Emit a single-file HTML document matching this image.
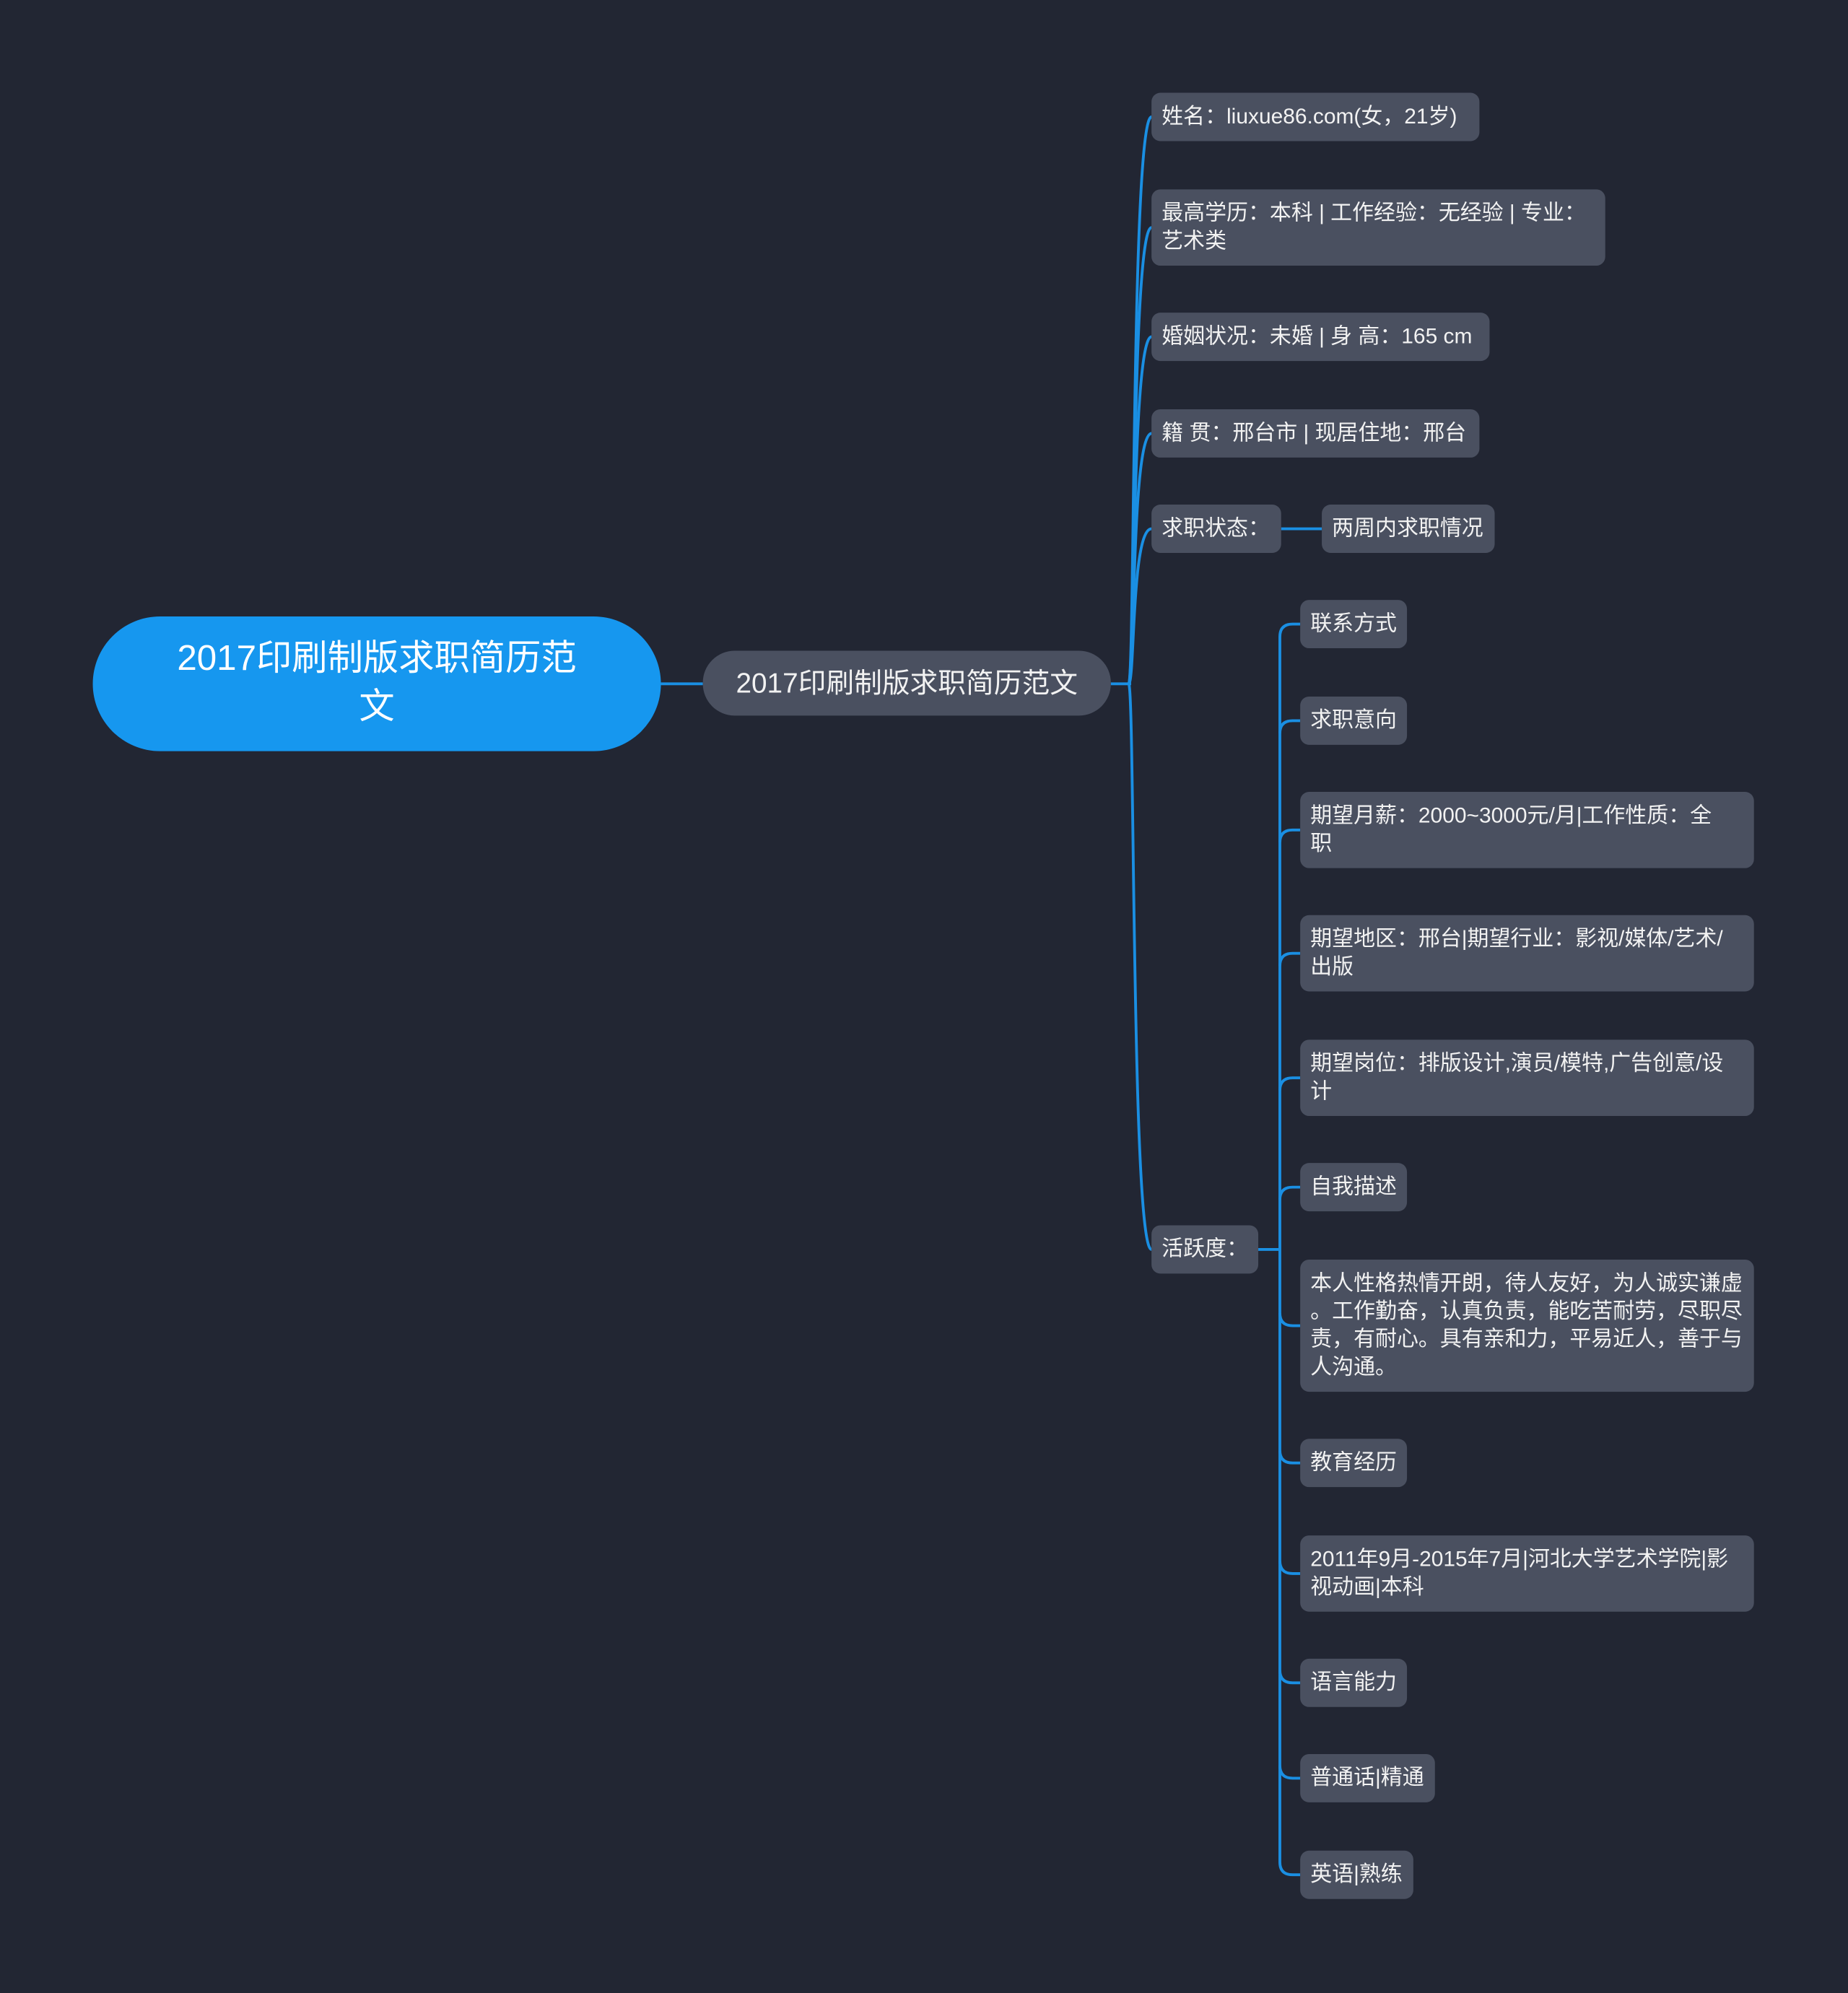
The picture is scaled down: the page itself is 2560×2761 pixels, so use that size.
<!DOCTYPE html>
<html><head><meta charset="utf-8"><style>
html,body{margin:0;padding:0;background:#222633;}
#w{position:relative;width:1454px;height:1568px;transform:scale(1.76066,1.76084);transform-origin:0 0;overflow:hidden;font-family:"Liberation Sans","Noto Sans CJK SC",sans-serif;}
.n{position:absolute;background:#4a5060;color:#f2f2f2;border-radius:7px;font-size:17px;line-height:22px;padding:8px 8px;box-sizing:border-box;white-space:nowrap;overflow:hidden;}
svg{position:absolute;left:0;top:0;}
</style></head><body><div id="w">
<svg width="1454" height="1568" fill="none" stroke="#1a8fe3" stroke-width="2.2">
<path d="M520 538 L553 538"/>
<path d="M874 538 L890 538"/>
<g id="l2">
<path d="M888 538 C 893 538, 890 92, 906 92"/>
<path d="M888 538 C 893 538, 890 179, 906 179"/>
<path d="M888 538 C 893 538, 890 265, 906 265"/>
<path d="M888 538 C 893 538, 890 341, 906 341"/>
<path d="M888 538 C 893 538, 890 416, 906 416"/>
<path d="M888 538 C 893 538, 890 983, 906 983"/>
</g>
<path d="M1008 416 L1040 416"/>
<path d="M990 983 L1007 983"/>
<path d="M1007 501 Q1007 491 1017 491 L1023 491 M1007 501 L1007 1465 Q1007 1475 1017 1475 L1023 1475"/>
<path d="M1007 577 Q1007 567 1017 567 L1023 567"/>
<path d="M1007 663 Q1007 653 1017 653 L1023 653"/>
<path d="M1007 760 Q1007 750 1017 750 L1023 750"/>
<path d="M1007 858 Q1007 848 1017 848 L1023 848"/>
<path d="M1007 944 Q1007 934 1017 934 L1023 934"/>
<path d="M1007 1033 Q1007 1043 1017 1043 L1023 1043"/>
<path d="M1007 1141 Q1007 1151 1017 1151 L1023 1151"/>
<path d="M1007 1228 Q1007 1238 1017 1238 L1023 1238"/>
<path d="M1007 1314 Q1007 1324 1017 1324 L1023 1324"/>
<path d="M1007 1389 Q1007 1399 1017 1399 L1023 1399"/>
</svg>
<div style="position:absolute;left:73px;top:485px;width:447px;height:106px;border-radius:53px;background:#1697ef;color:#fff;font-size:28px;line-height:38px;text-align:center;box-sizing:border-box;padding:14px 0 0;white-space:nowrap;">2017印刷制版求职简历范<br>文</div>
<div class="n" style="left:553px;top:512px;width:321px;height:51px;border-radius:25px;font-size:22px;line-height:51px;padding:0;text-align:center;">2017印刷制版求职简历范文</div>
<div class="n" style="left:906px;top:73px;width:258px;height:38px;">姓名：liuxue86.com(女，21岁)</div>
<div class="n" style="left:906px;top:149px;width:357px;height:60px;">最高学历：本科 | 工作经验：无经验 | 专业：<br>艺术类</div>
<div class="n" style="left:906px;top:246px;width:266px;height:38px;">婚姻状况：未婚 | 身 高：165 cm</div>
<div class="n" style="left:906px;top:322px;width:258px;height:38px;">籍 贯：邢台市 | 现居住地：邢台</div>
<div class="n" style="left:906px;top:397px;width:102px;height:38px;">求职状态：</div>
<div class="n" style="left:1040px;top:397px;width:136px;height:38px;">两周内求职情况</div>
<div class="n" style="left:906px;top:964px;width:84px;height:38px;">活跃度：</div>
<div class="n" style="left:1023px;top:472px;width:84px;height:38px;">联系方式</div>
<div class="n" style="left:1023px;top:548px;width:84px;height:38px;">求职意向</div>
<div class="n" style="left:1023px;top:623px;width:357px;height:60px;">期望月薪：2000~3000元/月|工作性质：全<br>职</div>
<div class="n" style="left:1023px;top:720px;width:357px;height:60px;">期望地区：邢台|期望行业：影视/媒体/艺术/<br>出版</div>
<div class="n" style="left:1023px;top:818px;width:357px;height:60px;">期望岗位：排版设计,演员/模特,广告创意/设<br>计</div>
<div class="n" style="left:1023px;top:915px;width:84px;height:38px;">自我描述</div>
<div class="n" style="left:1023px;top:991px;width:357px;height:104px;">本人性格热情开朗，待人友好，为人诚实谦虚<br>。工作勤奋，认真负责，能吃苦耐劳，尽职尽<br>责，有耐心。具有亲和力，平易近人，善于与<br>人沟通。</div>
<div class="n" style="left:1023px;top:1132px;width:84px;height:38px;">教育经历</div>
<div class="n" style="left:1023px;top:1208px;width:357px;height:60px;">2011年9月-2015年7月|河北大学艺术学院|影<br>视动画|本科</div>
<div class="n" style="left:1023px;top:1305px;width:84px;height:38px;">语言能力</div>
<div class="n" style="left:1023px;top:1380px;width:106px;height:38px;">普通话|精通</div>
<div class="n" style="left:1023px;top:1456px;width:89px;height:38px;">英语|熟练</div>
</div></body></html>
